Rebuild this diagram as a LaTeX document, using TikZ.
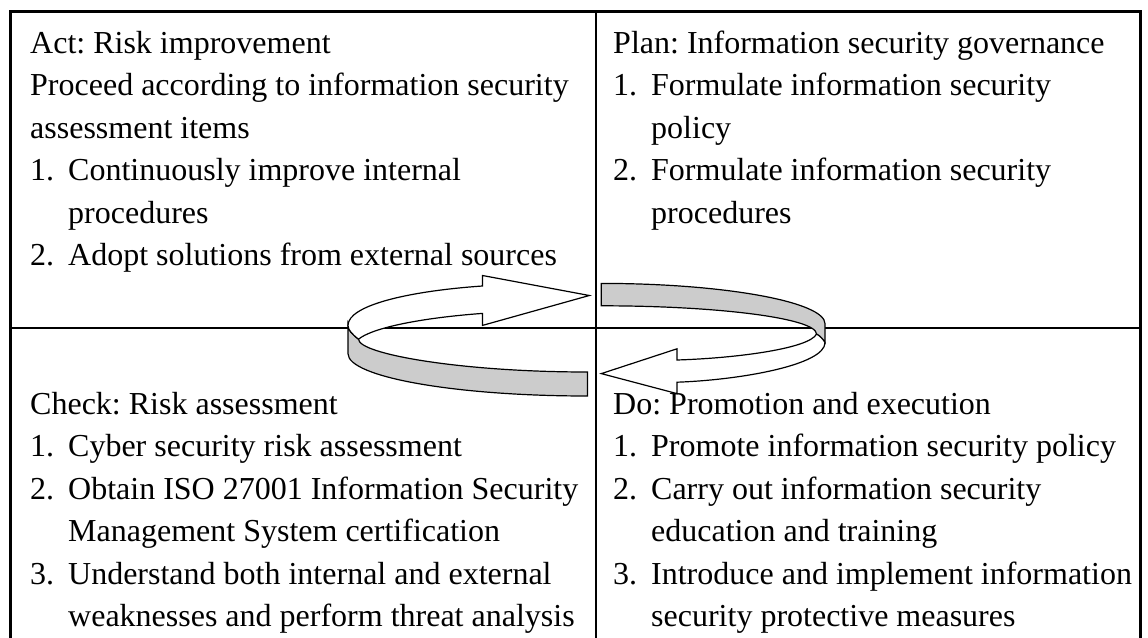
\documentclass[tikz,border=0pt]{standalone}
\usepackage{fontspec}
\setmainfont{Liberation Serif}
\frenchspacing
\begin{document}
\begin{tikzpicture}[x=1pt,y=-1pt,
  txt/.style={font=\fontsize{32}{42.5}\selectfont, inner sep=0pt, anchor=base west},
  frame/.style={line width=3pt},
  divider/.style={line width=1.8pt},
  ribbon/.style={line width=1.2pt, line join=miter},
  whiteface/.style={ribbon, fill=white},
  grayface/.style={ribbon, fill=black!20}]
\useasboundingbox (0,0) rectangle (1148,637);
\clip (0,0) rectangle (1148,637);
% grid
\coordinate (tl) at (10,11);
\coordinate (br) at (1140,660);
\coordinate (vt) at (596,11);
\coordinate (vb) at (596,660);
\coordinate (hl) at (10,328);
\coordinate (hr) at (1140,328);
\draw[divider] (vt) -- (vb);
\draw[divider] (hl) -- (hr);
\draw[frame] (tl) rectangle (br);
% ribbon arrow
\coordinate (A) at (348,325.4);
\coordinate (B) at (348,353.7);
\coordinate (C) at (358.5,339.2);
\coordinate (D) at (587.5,372);
\coordinate (E) at (587.5,396);
\coordinate (F) at (601.3,283.4);
\coordinate (G) at (601.3,305.8);
\coordinate (H) at (825,323.7);
\coordinate (I) at (825,342.6);
\coordinate (K) at (816.5,334);
% lower-left gray band
\draw[grayface] (A) -- (B) .. controls (348,377) and (455,396) .. (E) -- (D)
  .. controls (461,372) and (358.5,354) .. (C)
  .. controls (352,334) and (348,330) .. (A) -- cycle;
% upper white arrow
\draw[whiteface] (A) .. controls (348,305) and (410,291) .. (482.5,286)
  -- (482.5,275.5) -- (589.3,295.5) -- (482.5,325.4) -- (482.5,313.4)
  .. controls (420,318) and (372,328) .. (C)
  .. controls (352,334) and (348,330) .. (A) -- cycle;
% upper-right gray band
\draw[grayface] (F) .. controls (725,283.4) and (825,302) .. (H) -- (I)
  .. controls (823,339) and (820,336) .. (K)
  .. controls (816.5,318.5) and (720,305.8) .. (G) -- cycle;
% lower white arrow
\draw[whiteface] (I) .. controls (825,365) and (740,380) .. (677,382.2)
  -- (677,393.6) -- (601.3,373.6) -- (677,348.8) -- (677,360)
  .. controls (740,358) and (810,348) .. (K)
  .. controls (820,336) and (823,339) .. (I) -- cycle;
% Act
\node[txt] (a1) at (30,53) {Act: Risk improvement};
\node[txt] (a2) at (30,95.5) {Proceed according to information security};
\node[txt] (a3) at (30,138) {assessment items};
\node[txt] (a4) at (30,180.5) {\makebox[38pt][l]{1.}Continuously improve internal};
\node[txt] (a5) at (68,223) {procedures};
\node[txt] (a6) at (30,265.5) {\makebox[38pt][l]{2.}Adopt solutions from external sources};
% Plan
\node[txt] (p1) at (613,53) {Plan: Information security governance};
\node[txt] (p2) at (613,95.5) {\makebox[38pt][l]{1.}Formulate information security};
\node[txt] (p3) at (651,138) {policy};
\node[txt] (p4) at (613,180.5) {\makebox[38pt][l]{2.}Formulate information security};
\node[txt] (p5) at (651,223) {procedures};
% Check
\node[txt] (c1) at (30,414) {Check: Risk assessment};
\node[txt] (c2) at (30,456.5) {\makebox[38pt][l]{1.}Cyber security risk assessment};
\node[txt] (c3) at (30,499) {\makebox[38pt][l]{2.}Obtain ISO 27001 Information Security};
\node[txt] (c4) at (68,541.5) {Management System certification};
\node[txt] (c5) at (30,584) {\makebox[38pt][l]{3.}Understand both internal and external};
\node[txt] (c6) at (68,626.5) {weaknesses and perform threat analysis};
% Do
\node[txt] (d1) at (613,414) {Do: Promotion and execution};
\node[txt] (d2) at (613,456.5) {\makebox[38pt][l]{1.}Promote information security policy};
\node[txt] (d3) at (613,499) {\makebox[38pt][l]{2.}Carry out information security};
\node[txt] (d4) at (651,541.5) {education and training};
\node[txt] (d5) at (613,584) {\makebox[38pt][l]{3.}Introduce and implement information};
\node[txt] (d6) at (651,626.5) {security protective measures};
\end{tikzpicture}
\end{document}
